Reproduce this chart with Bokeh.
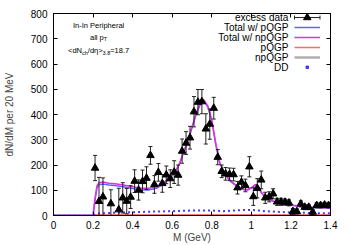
import numpy as np
from bokeh.plotting import figure
from bokeh.models import Range1d, LinearAxis, FixedTicker, Label, CustomLabelingPolicy
from bokeh.embed import file_html
from bokeh.resources import INLINE

# ---------------- data ----------------
mass = [0.21, 0.23, 0.25, 0.29, 0.33, 0.35, 0.37, 0.39, 0.41, 0.43, 0.45, 0.47, 0.49,
        0.51, 0.53, 0.55, 0.57, 0.59, 0.61, 0.63, 0.65, 0.67, 0.69, 0.71, 0.73, 0.75,
        0.77, 0.79, 0.81, 0.83, 0.85, 0.87, 0.89, 0.91, 0.93, 0.95, 0.97, 0.99, 1.01,
        1.03, 1.05, 1.07, 1.09, 1.11, 1.13, 1.15, 1.17, 1.19, 1.21, 1.23, 1.25, 1.27,
        1.29, 1.31, 1.33, 1.35, 1.37, 1.39]
excess = [188, 56, 74, 47, 23, 70, 57, 73, 136, 101, 135, 148, 238,
          123, 171, 127, 161, 146, 172, 160, 255, 287, 308, 411, 449, 451,
          343, 362, 425, 231, 175, 165, 163, 162, 110, 132, 119, 193, 75,
          108, 141, 70, 74, 86, 54, 54, 53, 50, 16, 16, 46, 33,
          33, 14, 40, 40, 42, 40]
excess_err = [50, 95, 75, 55, 85, 60, 50, 45, 45, 40, 45, 45, 35,
              35, 35, 35, 35, 35, 45, 40, 48, 45, 45, 60, 50, 48,
              60, 60, 43, 30, 25, 25, 25, 25, 25, 25, 25, 40, 35,
              38, 35, 22, 20, 20, 14, 14, 12, 12, 12, 10, 12, 10,
              10, 10, 10, 10, 10, 10]

curve_m = [0.0, 0.2, 0.21, 0.22, 0.23, 0.25, 0.28, 0.32, 0.36, 0.40, 0.44, 0.48, 0.52,
           0.55, 0.58, 0.60, 0.62, 0.64, 0.66, 0.68, 0.70, 0.72, 0.74, 0.76, 0.78,
           0.80, 0.82, 0.84, 0.86, 0.88, 0.90, 0.92, 0.94, 0.96, 0.98, 1.00, 1.02,
           1.03, 1.05, 1.07, 1.10, 1.15, 1.20, 1.25, 1.30, 1.35, 1.40]
total_npqgp = [0, 0, 70, 118, 130, 133, 128, 125, 120, 114, 108, 108, 114,
               126, 145, 160, 180, 212, 255, 298, 350, 402, 442, 458, 434,
               378, 285, 210, 176, 150, 133, 121, 111, 104, 102, 110, 122,
               119, 92, 73, 60, 48, 42, 37, 34, 32, 30]
total_pqgp = [0, 0, 62, 110, 122, 125, 121, 118, 113, 107, 101, 101, 108,
              121, 141, 157, 178, 211, 254, 297, 348, 398, 437, 452, 430,
              375, 283, 209, 175, 149, 132, 120, 110, 103, 101, 109, 121,
              118, 91, 72, 59, 47, 41, 36, 33, 31, 29]
pqgp = [0, 0, 2, 2, 2, 2, 2, 2, 2, 2, 2, 2, 2,
        2, 2, 2, 2, 2, 2, 2, 2, 2, 2, 2, 2,
        2, 2, 2, 2, 2, 2, 2, 2, 2, 2, 2, 2,
        2, 2, 2, 2, 1.5, 1.5, 1.5, 1.5, 1.5, 1.5]
npqgp = [0, 0, 1, 1, 1, 1, 1, 1, 1, 1, 1, 1, 1,
         1, 1, 1, 1, 1, 1, 1, 1, 1, 1, 1, 1,
         1, 1, 1, 1, 1, 1, 1, 1, 1, 1, 1, 1,
         1, 1, 1, 1, 1, 1, 1, 1, 1, 1]
dd = [0, 0, 4, 7, 8, 9, 10, 11, 12, 13, 14, 15, 16,
      16, 17, 17, 18, 18, 19, 19, 20, 20, 20, 20, 20,
      20, 19, 18, 17, 18, 19, 20, 21, 22, 22, 22, 21,
      20, 19, 17, 16, 14, 12, 11, 10, 9, 9]

x_ticks = [0, 0.2, 0.4, 0.6, 0.8, 1.0, 1.2, 1.4]
x_tick_labels = ["0", "0.2", "0.4", "0.6", "0.8", "1", "1.2", "1.4"]
y_ticks = [0, 100, 200, 300, 400, 500, 600, 700, 800]

legend_labels = ["excess data", "Total w/ pQGP", "Total w/ npQGP", "pQGP", "npQGP", "DD"]

# ---------------- style ----------------
FONT = "Liberation Sans"
C_BLUE = "#6464ff"
C_MAG = "#e030e0"
C_RED = "#ff6a6a"
C_GRAY = "#b0b0b0"
C_DD = "#3c3cff"
C_DATA = "#222222"

p = figure(width=350, height=245, output_backend="svg", toolbar_location=None,
           x_range=Range1d(0, 1.4), y_range=Range1d(0, 800),
           min_border_left=51, min_border_right=17, min_border_top=13,
           min_border_bottom=30)
p.outline_line_color = "black"
p.outline_line_width = 1
p.xgrid.visible = False
p.ygrid.visible = False
p.background_fill_color = "white"
p.border_fill_color = "white"

def style_axis(ax, show_labels=True):
    ax.major_tick_in = 4
    ax.major_tick_out = 0
    ax.minor_tick_in = 0
    ax.minor_tick_out = 0
    ax.axis_line_color = "black"
    ax.major_tick_line_color = "black"
    ax.major_label_text_font = FONT
    ax.major_label_text_font_size = "10px"
    ax.major_label_text_color = "black"
    ax.axis_label_text_font = FONT
    ax.axis_label_text_font_size = "10px"
    ax.axis_label_text_font_style = "normal"
    if not show_labels:
        ax.major_label_policy = CustomLabelingPolicy(code="return new Set()")
        ax.major_label_standoff = 0

xax = p.xaxis[0]
xax.ticker = FixedTicker(ticks=x_ticks)
xax.major_label_overrides = {t: l for t, l in zip(x_ticks, x_tick_labels)}
style_axis(xax)
xax.axis_label = "M (GeV)"
xax.major_label_standoff = 5
xax.axis_label_standoff = 0

yax = p.yaxis[0]
yax.ticker = FixedTicker(ticks=y_ticks)
style_axis(yax)
yax.axis_label = "dN/dM per 20 MeV"
yax.major_label_standoff = 6
yax.axis_label_standoff = 13

top = LinearAxis(ticker=FixedTicker(ticks=x_ticks))
style_axis(top, False)
p.add_layout(top, "above")
right = LinearAxis(ticker=FixedTicker(ticks=y_ticks))
style_axis(right, False)
p.add_layout(right, "right")

# ---------------- curves ----------------
p.line(curve_m, npqgp, line_color=C_GRAY, line_width=2.5)
p.line(curve_m, pqgp, line_color=C_RED, line_width=1.5)
p.line(curve_m, dd, line_color=C_DD, line_width=2, line_dash="2 3")
p.line(curve_m, total_pqgp, line_color=C_BLUE, line_width=1.5)
p.line(curve_m, total_npqgp, line_color=C_MAG, line_width=1.5)

# ---------------- data with error bars ----------------
m = np.array(mass)
y = np.array(excess, dtype=float)
e = np.array(excess_err, dtype=float)
p.segment(m, y - e, m, y + e, line_color=C_DATA, line_width=1)
p.scatter(np.concatenate([m, m]), np.concatenate([y - e, y + e]), marker="dash",
          size=4, line_color=C_DATA, line_width=1)
p.scatter(m, y, marker="triangle", size=7.5, fill_color="black", line_color="black")

# ---------------- legend (gnuplot style: text, then sample) ----------------
leg_text_x = 1.187
leg_x0, leg_x1 = 1.218, 1.347
leg_y = [784, 745, 705, 665, 626, 587]
for lab_text, ly in zip(legend_labels, leg_y):
    p.add_layout(Label(x=leg_text_x, y=ly, text=lab_text, text_align="right",
                       text_baseline="middle", text_font=FONT,
                       text_font_size="10px", text_color="black"))
xm = (leg_x0 + leg_x1) / 2
p.line([leg_x0, leg_x1], [leg_y[0], leg_y[0]], line_color=C_DATA, line_width=1)
p.scatter([leg_x0, leg_x1], [leg_y[0], leg_y[0]], marker="dash", angle=np.pi / 2,
          size=4, line_color=C_DATA)
p.scatter([xm], [leg_y[0]], marker="triangle", size=7.5, fill_color="black", line_color="black")
p.line([leg_x0, leg_x1], [leg_y[1]] * 2, line_color=C_BLUE, line_width=1.5)
p.line([leg_x0, leg_x1], [leg_y[2]] * 2, line_color=C_MAG, line_width=1.5)
p.line([leg_x0, leg_x1], [leg_y[3]] * 2, line_color=C_RED, line_width=1.5)
p.line([leg_x0, leg_x1], [leg_y[4]] * 2, line_color=C_GRAY, line_width=2.5)
p.scatter([xm], [leg_y[5]], marker="square", size=2.5, fill_color=C_DD, line_color=C_DD)

# ---------------- annotation text ----------------
ann_x = 0.228
def lab(x, y, text, size="7.5px", xo=0, yo=0, align="left"):
    p.add_layout(Label(x=x, y=y, x_offset=xo, y_offset=yo, text=text, text_align=align,
                       text_baseline="middle", text_font=FONT,
                       text_font_size=size, text_color="black"))

lab(ann_x, 752, "In-In Peripheral", align="center")
# "all p_T"
lab(ann_x, 705, "all p", xo=-8.6)
lab(ann_x, 705, "T", size="5.5px", xo=5.2, yo=-2)
# "<dN_ch/dη>_3.8=18.7"
x0 = -30.6
lab(ann_x, 652, "<dN", xo=x0)
lab(ann_x, 652, "ch", size="5.5px", xo=x0 + 14.0, yo=-2)
lab(ann_x, 652, "/dη>", xo=x0 + 19.8)
lab(ann_x, 652, "3.8", size="5.5px", xo=x0 + 34.6, yo=-2)
lab(ann_x, 652, "=18.7", xo=x0 + 42.2)

open("out.html", "w").write(file_html(p, INLINE))
